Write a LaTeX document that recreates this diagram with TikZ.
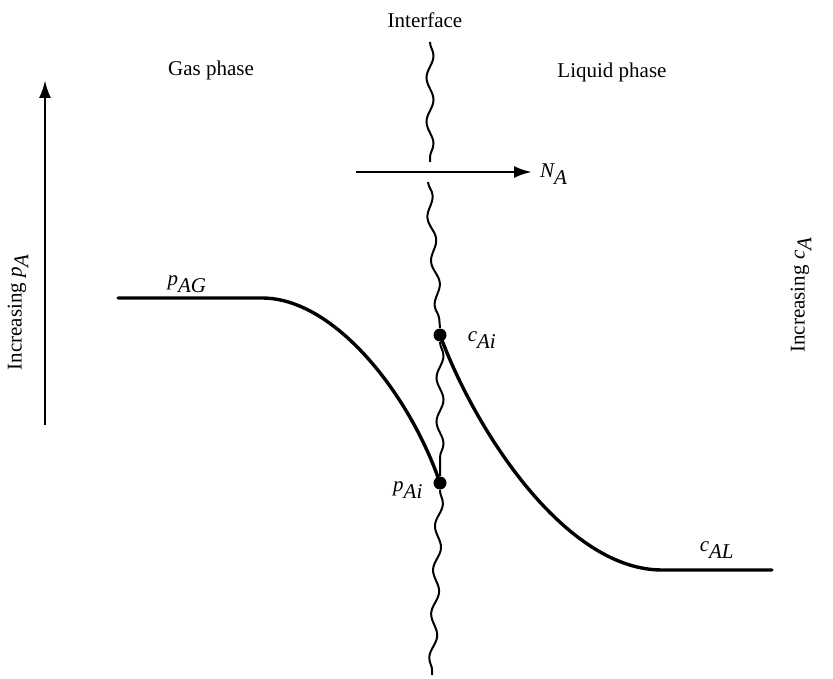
\documentclass[tikz,border=0pt]{standalone}
\usepackage{fontspec}
\setmainfont{Liberation Serif}
\usetikzlibrary{decorations.pathmorphing,arrows.meta}
\tikzset{
  lbl/.style={font=\fontsize{21}{24}\selectfont, inner sep=0pt},
  sym/.style={font=\fontsize{21}{24}\selectfont\itshape, inner sep=0pt},
  curve/.style={line width=3.4pt, line cap=round},
  wave/.style={line width=2pt, decorate, decoration={snake, segment length=44pt, amplitude=3.5pt}},
  dot/.style={circle, fill=black, inner sep=0pt, minimum size=13pt},
  arr/.style={line width=2.8pt, -{Latex[length=18pt,width=12pt]}}
}
\begin{document}
\begin{tikzpicture}[x=1pt,y=-1pt]
\useasboundingbox (0,0) rectangle (833,679);
% texts
\node[lbl] (iface) at (425,20) {Interface};
\node[lbl] (gas) at (211,70) {Gas phase};
\node[lbl] (liq) at (612,72) {Liquid phase};
\node[lbl, rotate=90] (incp) at (18,312) {Increasing $\textit{p}_{\textit{A}}$};
\node[lbl, rotate=90] (incc) at (801,295) {Increasing $\textit{c}_{\textit{A}}$};
% axis arrow
\coordinate (ax0) at (45,425);
\coordinate (ax1) at (45,80);
\draw[arr] (ax0) -- (ax1);
% flux arrow
\coordinate (n0) at (356,172);
\coordinate (n1) at (532,172);
\draw[arr] (n0) -- (n1);
\node[sym, anchor=west] (NA) at (540,174) {$\textit{N}_{\textit{A}}$};
% interface
\coordinate (w0) at (430,42);
\coordinate (w1) at (430,162);
\coordinate (w2) at (428,182);
\coordinate (w3) at (440,328);
\coordinate (w4) at (440,342);
\coordinate (w5) at (440,476);
\coordinate (w6) at (440,490);
\coordinate (w7) at (432,675);
\draw[wave] (w0) -- (w1);
\draw[wave] (w2) -- (w3);
\draw[wave] (w4) -- (w5);
\draw[wave] (w6) -- (w7);
% dots
\node[dot] (cai) at (440,335) {};
\node[dot] (pai) at (440,483) {};
% gas curve
\coordinate (g0) at (118,298);
\coordinate (g1) at (262,298);
\draw[curve] (g0) -- (g1) .. controls (335,298) and (410,395) .. (pai.center);
% liquid curve
\coordinate (l1) at (662,570);
\coordinate (l2) at (772,570);
\draw[curve] (cai.center) .. controls (475,430) and (565,570) .. (l1) -- (l2);
% labels
\node[sym] (pag) at (187,284) {$\textit{p}_{\textit{AG}}$};
\node[sym] (cail) at (482,340) {$\textit{c}_{\textit{Ai}}$};
\node[sym] (pail) at (408,490) {$\textit{p}_{\textit{Ai}}$};
\node[sym] (cal) at (717,550) {$\textit{c}_{\textit{AL}}$};
\end{tikzpicture}
\end{document}
